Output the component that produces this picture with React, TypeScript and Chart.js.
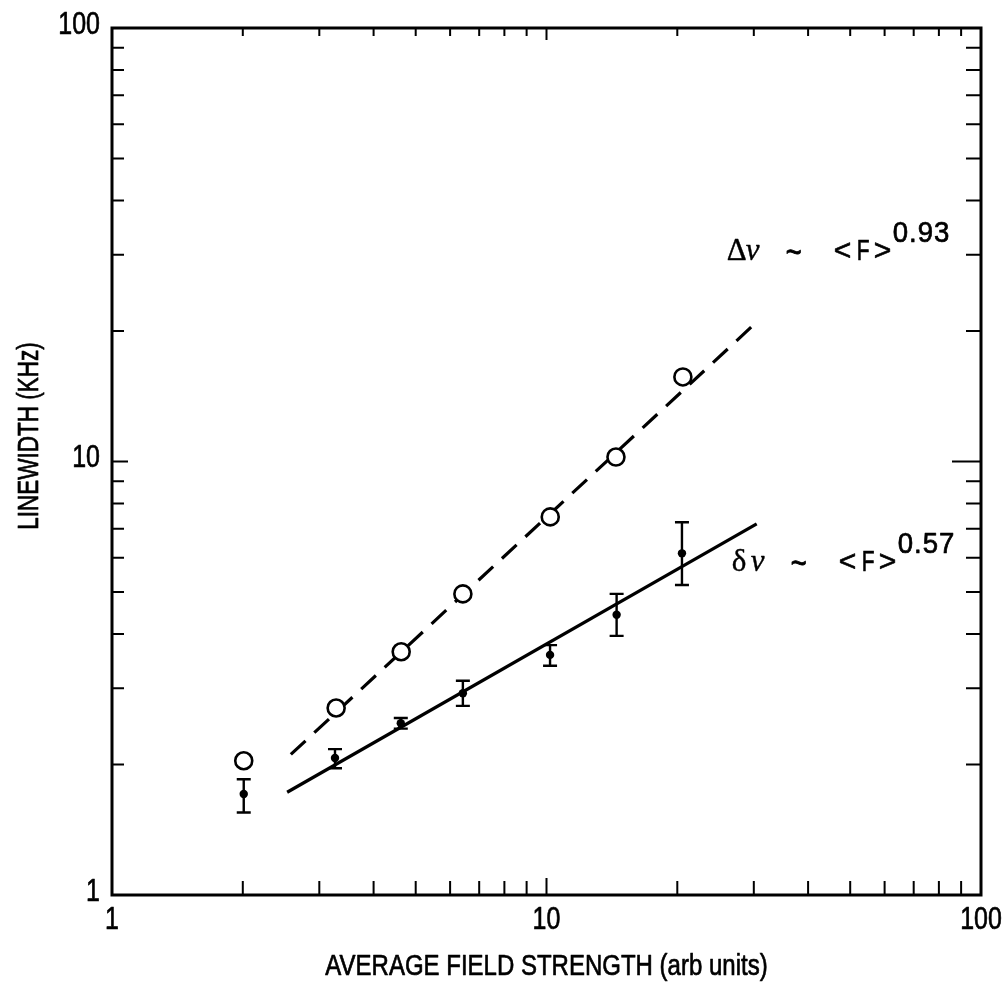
import { useEffect, useRef } from "react";
import { Chart, registerables } from "chart.js";
Chart.register(...registerables);

// ---- data ----
const openX = [2.01, 3.28, 4.63, 6.42, 10.2, 14.45, 20.6];
const openY = [2.04, 2.7, 3.64, 4.95, 7.45, 10.24, 15.67];
const dotX = [2.01, 3.26, 4.62, 6.42, 10.19, 14.5, 20.5];
const dotY = [1.71, 2.07, 2.49, 2.92, 3.58, 4.43, 6.14];
const dotHi = [1.85, 2.17, 2.56, 3.12, 3.77, 4.95, 7.24];
const dotLo = [1.55, 1.96, 2.42, 2.73, 3.38, 3.96, 5.19];
const dashFitX = [2.58, 30.5];
const dashFitY = [2.11, 21.0];
const solidFitX = [2.53, 30.46];
const solidFitY = [1.726, 7.18];
const majorTicks = [1, 10, 100];
const xTitle = "AVERAGE FIELD STRENGTH (arb units)";
const yTitle = "LINEWIDTH (KHz)";
const annBig = ["Δ", "δ"];
const annExp = ["0.93", "0.57"];
const annX = [26.0, 26.7];
const annY = [29.2, 5.59];

const SANS = '"Liberation Sans", Arial, sans-serif';
const SERIF = '"Liberation Serif", "DejaVu Serif", serif';
const SX = 0.78;

const pts = (xs: number[], ys: number[]) => xs.map((x, i) => ({ x, y: ys[i] }));

function txt(ctx: any, s: string, x: number, y: number, font: string, align: string, sx: number, rot = 0, bold = 0.7) {
  ctx.save();
  ctx.translate(x, y);
  if (rot) ctx.rotate(rot);
  ctx.scale(sx, 1);
  ctx.font = font;
  ctx.textAlign = align;
  ctx.fillText(s, 0, 0);
  if (bold > 0) {
    ctx.lineWidth = bold;
    ctx.lineJoin = "round";
    ctx.strokeText(s, 0, 0);
  }
  ctx.restore();
}

const decorPlugin = {
  id: "decor",
  afterDatasetsDraw(chart: any) {
    const { ctx, chartArea: a, scales } = chart;
    const xs = scales.x;
    const ys = scales.y;
    ctx.save();
    ctx.strokeStyle = "#000";
    ctx.fillStyle = "#000";
    // error bars
    ctx.lineWidth = 2.4;
    dotX.forEach((x, i) => {
      const px = xs.getPixelForValue(x);
      const hi = ys.getPixelForValue(dotHi[i]);
      const lo = ys.getPixelForValue(dotLo[i]);
      ctx.beginPath();
      ctx.moveTo(px, hi);
      ctx.lineTo(px, lo);
      ctx.moveTo(px - 7, hi);
      ctx.lineTo(px + 7, hi);
      ctx.moveTo(px - 7, lo);
      ctx.lineTo(px + 7, lo);
      ctx.stroke();
    });
    // frame
    ctx.lineWidth = 3;
    ctx.strokeRect(a.left, a.top, a.right - a.left, a.bottom - a.top);
    // inside ticks
    ctx.lineWidth = 2;
    for (let k = 0; k < 2; k++) {
      for (let m = 1; m <= 9; m++) {
        const v = m * Math.pow(10, k);
        if (v <= 1 || v >= 100) continue;
        const major = m === 1;
        const px = xs.getPixelForValue(v);
        const py = ys.getPixelForValue(v);
        ctx.beginPath();
        ctx.moveTo(px, a.bottom);
        ctx.lineTo(px, a.bottom - (major ? 17 : 14));
        ctx.moveTo(px, a.top);
        ctx.lineTo(px, a.top + (major ? 12 : 8));
        ctx.moveTo(a.left, py);
        ctx.lineTo(a.left + (major ? 16 : 12), py);
        ctx.moveTo(a.right, py);
        ctx.lineTo(a.right - (major ? 29 : 15), py);
        ctx.stroke();
      }
    }
    // tick labels
    ctx.textBaseline = "middle";
    majorTicks.forEach((v) => {
      txt(ctx, String(v), xs.getPixelForValue(v), a.bottom + 25, `32px ${SANS}`, "center", SX);
      txt(ctx, String(v), a.left - 12, ys.getPixelForValue(v) - 3, `32px ${SANS}`, "right", SX);
    });
    // axis titles
    txt(ctx, xTitle, (a.left + a.right) / 2, 967, `30px ${SANS}`, "center", 0.8);
    txt(ctx, yTitle, 30, 436, `30px ${SANS}`, "center", 0.75, -Math.PI / 2);
    // annotations
    ctx.textBaseline = "alphabetic";
    annBig.forEach((s, i) => {
      const x0 = xs.getPixelForValue(annX[i]);
      const y0 = ys.getPixelForValue(annY[i]);
      txt(ctx, s, x0, y0, `31px ${SERIF}`, "left", 1, 0, 0.4);
      txt(ctx, "ν", x0 + 19, y0, `italic 31px ${SERIF}`, "left", 1, 0, 0.4);
      txt(ctx, "~", x0 + 59, y0 + 3, `34px ${SANS}`, "left", 0.8, 0, 1);
      txt(ctx, "<", x0 + 107, y0, `30px ${SANS}`, "left", 1);
      txt(ctx, "F", x0 + 130, y0, `30px ${SANS}`, "left", 0.7);
      txt(ctx, ">", x0 + 147, y0, `30px ${SANS}`, "left", 1);
      ctx.save();
      (ctx as any).letterSpacing = "1px";
      txt(ctx, annExp[i], x0 + 166, y0 - 18, `29px ${SANS}`, "left", 0.95);
      ctx.restore();
    });
    ctx.restore();
  },
};

export default function App() {
  const ref = useRef<HTMLCanvasElement>(null);
  useEffect(() => {
    if (!ref.current) return;
    const chart = new Chart(ref.current, {
      type: "scatter",
      data: {
        datasets: [
          {
            data: pts(openX, openY),
            pointRadius: 8.5,
            pointBorderWidth: 2.6,
            pointBackgroundColor: "#fff",
            pointBorderColor: "#000",
            showLine: false,
            order: 0,
          } as any,
          {
            data: pts(dotX, dotY),
            pointRadius: 4.2,
            pointBorderWidth: 0,
            pointBackgroundColor: "#000",
            pointBorderColor: "#000",
            showLine: false,
            order: 1,
          },
          {
            data: pts(dashFitX, dashFitY),
            showLine: true,
            borderColor: "#000",
            borderWidth: 3.2,
            borderDash: [20, 12],
            pointRadius: 0,
            order: 3,
          },
          {
            data: pts(solidFitX, solidFitY),
            showLine: true,
            borderColor: "#000",
            borderWidth: 3.2,
            pointRadius: 0,
            order: 2,
          },
        ],
      },
      options: {
        animation: false,
        responsive: false,
        maintainAspectRatio: false,
        layout: { padding: { top: 28, right: 25, left: 0, bottom: 0 } },
        plugins: { legend: { display: false }, tooltip: { enabled: false } },
        scales: {
          x: {
            type: "logarithmic",
            min: 1,
            max: 100,
            grid: { display: false, drawTicks: false },
            border: { display: false },
            ticks: { display: false },
            afterFit: (s: any) => {
              s.height = 95;
            },
          },
          y: {
            type: "logarithmic",
            min: 1,
            max: 100,
            grid: { display: false, drawTicks: false },
            border: { display: false },
            ticks: { display: false },
            afterFit: (s: any) => {
              s.width = 112;
            },
          },
        },
      },
      plugins: [decorPlugin],
    } as any);
    return () => chart.destroy();
  }, []);
  return (
    <div style={{ position: "absolute", left: 0, top: 0, width: 1006, height: 990, background: "#fff" }}>
      <canvas ref={ref} width={1006} height={990} />
    </div>
  );
}
